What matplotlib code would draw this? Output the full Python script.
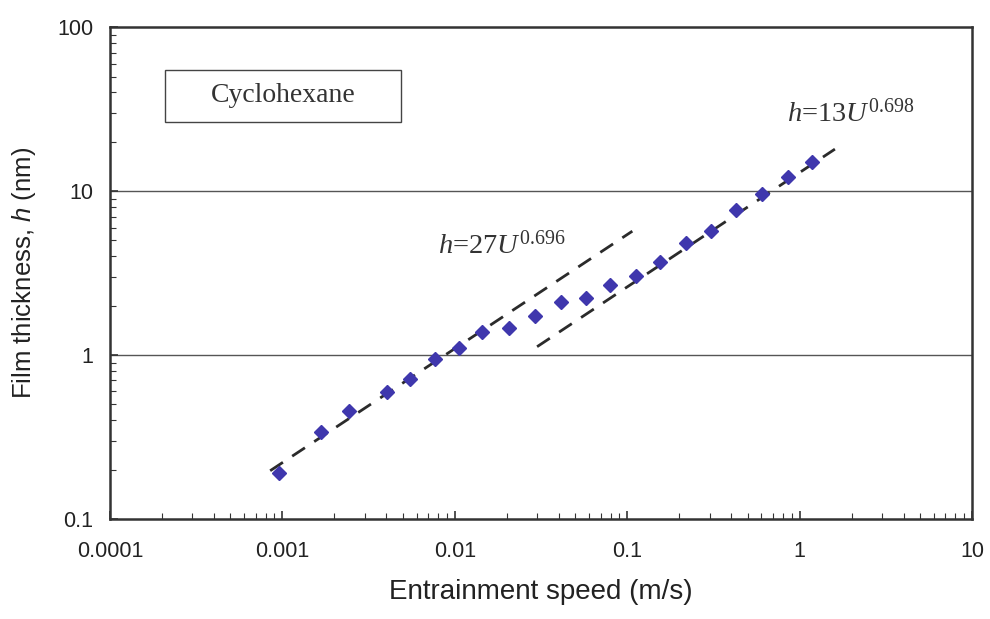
import numpy as np
import matplotlib
matplotlib.use('Agg')
import matplotlib.pyplot as plt
from matplotlib.patches import Rectangle
from matplotlib.ticker import FixedLocator, FixedFormatter, LogLocator, NullFormatter

plt.rcParams['font.family'] = ['Liberation Sans', 'DejaVu Sans']
plt.rcParams['mathtext.fontset'] = 'custom'
plt.rcParams['mathtext.rm'] = 'Liberation Serif'
plt.rcParams['mathtext.it'] = 'Liberation Serif:italic'
plt.rcParams['mathtext.sf'] = 'Liberation Sans:italic'

# --- data ---
speed = [0.00095, 0.00168, 0.00243, 0.00405, 0.0055, 0.00767, 0.0106, 0.0144,
         0.0206, 0.0292, 0.0413, 0.0577, 0.0795, 0.1125, 0.155, 0.219, 0.306,
         0.428, 0.605, 0.857, 1.18]
thickness = [0.19, 0.339, 0.456, 0.595, 0.714, 0.946, 1.10, 1.38, 1.46, 1.73,
             2.10, 2.23, 2.67, 3.03, 3.69, 4.82, 5.70, 7.66, 9.59, 12.2, 15.0]

# fit lines h = k * U^n, drawn over a speed range
fit_k = [27, 13]
fit_n = [0.696, 0.698]
fit_range = [(0.00085, 0.107), (0.030, 1.6)]
fit_labels = [r'$h$=27$U^{0.696}$', r'$h$=13$U^{0.698}$']
label_pos = [(0.0080, 4.7), (0.84, 30)]

x_ticks = [0.0001, 0.001, 0.01, 0.1, 1, 10]
x_ticklabels = ['0.0001', '0.001', '0.01', '0.1', '1', '10']
y_ticks = [0.1, 1, 10, 100]
y_ticklabels = ['0.1', '1', '10', '100']
y_grid = [1, 10]

fig = plt.figure(figsize=(9.9, 6.19), dpi=100)
ax = fig.add_axes([0.111, 0.1616, 0.871, 0.7944])
ax.set_xscale('log')
ax.set_yscale('log')
ax.set_xlim(0.0001, 10)
ax.set_ylim(0.1, 100)

for yg in y_grid:
    ax.axhline(yg, color='#555555', lw=1.0, zorder=1)

for k, n, (u0, u1) in zip(fit_k, fit_n, fit_range):
    u = np.logspace(np.log10(u0), np.log10(u1), 50)
    ax.plot(u, k * u ** n, color='#2b2b2b', lw=2.0, dashes=(5.5, 4), zorder=2)

ax.plot(speed, thickness, 'D', color='#3f37ad', ms=7, mec='#3f37ad', zorder=3)

for txt, (tx, ty) in zip(fit_labels, label_pos):
    ax.text(tx, ty, txt, fontsize=20.5, color='#333333', va='center', ha='left',
            family='Liberation Serif')

# label box
ax.add_patch(Rectangle((0.0638, 0.807), 0.2738, 0.1056, transform=ax.transAxes,
                       fill=False, ec='#444444', lw=1.0, zorder=4))
ax.text(0.2007, 0.862, 'Cyclohexane', transform=ax.transAxes, ha='center', va='center',
        fontsize=20, family='Liberation Serif', color='#333333')

ax.xaxis.set_major_locator(FixedLocator(x_ticks))
ax.xaxis.set_major_formatter(FixedFormatter(x_ticklabels))
ax.yaxis.set_major_locator(FixedLocator(y_ticks))
ax.yaxis.set_major_formatter(FixedFormatter(y_ticklabels))
ax.xaxis.set_minor_locator(LogLocator(base=10, subs=np.arange(2, 10)))
ax.yaxis.set_minor_locator(LogLocator(base=10, subs=np.arange(2, 10)))
ax.xaxis.set_minor_formatter(NullFormatter())
ax.yaxis.set_minor_formatter(NullFormatter())
ax.tick_params(which='both', direction='in', color='#333333', top=False, right=False)
ax.tick_params(which='major', length=6, width=1.2, labelsize=15.5, labelcolor='#222222')
ax.tick_params(axis='x', which='major', pad=16)
ax.tick_params(axis='y', which='major', pad=12)
ax.tick_params(which='minor', length=4, width=0.8)

for sp in ax.spines.values():
    sp.set_linewidth(1.8)
    sp.set_color('#333333')

ax.set_xlabel('Entrainment speed (m/s)', fontsize=20, color='#222222', labelpad=12)
ax.set_ylabel(r'Film thickness, $\mathsf{h}$ (nm)', fontsize=18.5, color='#222222', labelpad=14)

fig.savefig('out.png', dpi=100)
